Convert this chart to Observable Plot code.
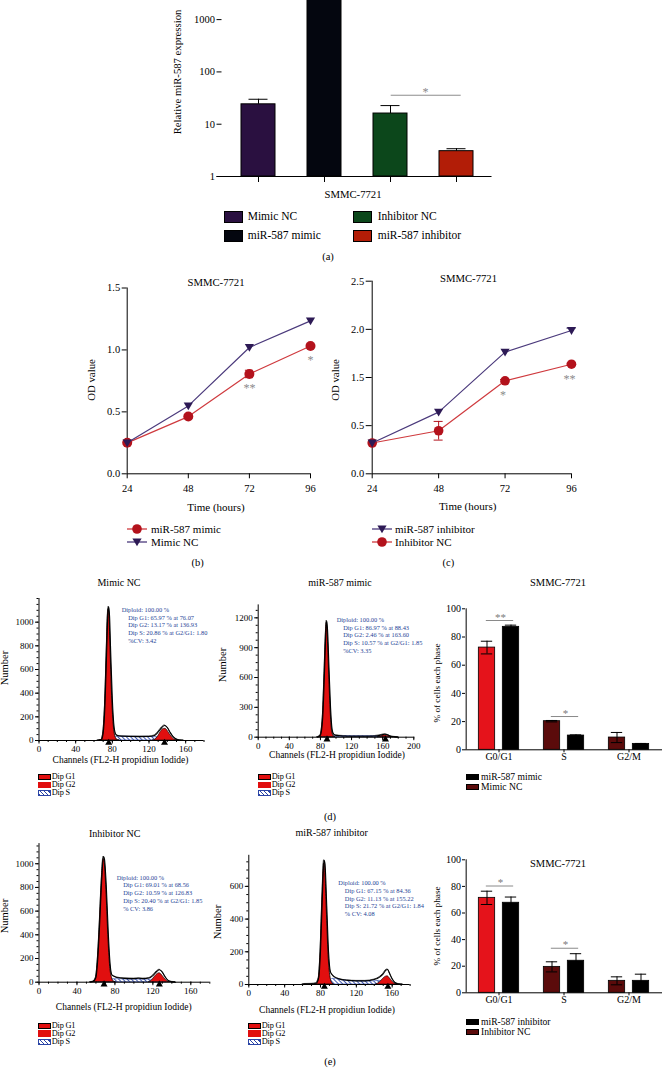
<!DOCTYPE html>
<html><head><meta charset="utf-8">
<script src="https://cdn.jsdelivr.net/npm/d3@7"></script>
<script src="https://cdn.jsdelivr.net/npm/@observablehq/plot@0.6"></script>
<style>
body{margin:0;background:#fff}
#root{position:relative;width:662px;height:1068px;overflow:hidden;font-family:"Liberation Serif","Times New Roman",serif;color:#000;background:#fff}
.t{position:absolute;white-space:nowrap;line-height:1}
</style></head><body><div id="root"></div>
<script>
// ---------------- DATA ----------------
// Panel (a): relative miR-587 expression (log scale)
const aGroups = ["Mimic NC", "miR-587 mimic", "Inhibitor NC", "miR-587 inhibitor"];
const aValues = [24, 5000, 16, 3.05];
const aErrTop = [30, 0, 22.7, 3.4];
const aColors = ["#2a1040", "#04060f", "#0c471b", "#b21d07"];
const aTicks = [1, 10, 100, 1000];
const aSig = [{from: "Inhibitor NC", to: "miR-587 inhibitor", y: 35.8, label: "*"}];

// Panel (b): OD value, mimic
const hours = [24, 48, 72, 96];
const bTicks = [0, 0.5, 1.0, 1.5];
const bMimic = [0.25, 0.462, 0.806, 1.032];
const bMimicErr = [0, 0, 0.03, 0.012];
const bMimicNC = [0.25, 0.548, 1.02, 1.235];
const bStars = [{h: 72, y: 0.806, label: "**"}, {h: 96, y: 1.032, label: "*"}];

// Panel (c): OD value, inhibitor (axis positions with the printed tick labels)
const cTickPos = [0, 0.5, 1, 1.5, 2];
const cTickLabels = ["0.0", "0.5", "1.5", "2.0", "2.5"];
const cInhibitor = [0.32, 0.64, 1.263, 1.488];
const cInhibitorErr = [0, 0, 0, 0.025];
const cInhibitorNC = [0.32, 0.447, 0.966, 1.138];
const cInhibitorNCErr = [0, 0.097, 0.012, 0.01];
const cStars = [{h: 72, y: 0.966, label: "*"}, {h: 96, y: 1.138, label: "**"}];

// Cell-cycle histograms: [channel, count]
const h1Total = [[64,0],[68,5],[70,60],[72,300],[74,800],[75,1050],[76,1130],[77,1050],[78,800],[80,350],[82,110],[84,50],[86,40],[90,36],[100,34],[110,33],[120,34],[126,42],[130,72],[134,110],[137,127],[140,110],[143,70],[146,35],[150,10],[154,2],[158,0]];
const h1G1 = [[66,0],[68,4],[70,55],[72,290],[74,780],[75,1030],[76,1110],[77,1030],[78,780],[80,330],[82,90],[84,20],[86,3],[88,0]];
const h1G2 = [[124,0],[127,8],[130,35],[133,75],[136,98],[138,99],[140,85],[143,50],[146,20],[149,4],[152,0]];
const h1S = [[72,0],[76,12],[80,24],[84,30],[90,31],[100,31],[110,30],[120,30],[128,28],[134,20],[140,8],[144,0]];
const h1Peaks = [76.07, 136.93];
const h1Text = ["Diploid: 100.00 %", "Dip G1: 65.97 % at 76.07", "Dip G2: 13.17 % at 136.93", "Dip S: 20.86 % at G2/G1: 1.80", "%CV: 3.42"];

const h2Total = [[76,0],[80,20],[83,200],[85,600],[87,1050],[88,1170],[89,1100],[91,700],[93,300],[95,80],[97,30],[100,18],[110,12],[120,10],[140,10],[150,12],[156,18],[160,26],[163,30],[166,24],[170,10],[175,3],[180,0]];
const h2G1 = [[78,0],[80,15],[83,190],[85,580],[87,1030],[88,1150],[89,1080],[91,680],[93,280],[95,60],[97,12],[99,0]];
const h2G2 = [[154,0],[158,8],[161,16],[164,18],[167,12],[170,4],[174,0]];
const h2S = [[86,0],[92,8],[100,10],[120,9],[140,9],[155,7],[164,2],[168,0]];
const h2Peaks = [88.43, 163.6];
const h2Text = ["Diploid: 100.00 %", "Dip G1: 86.97 % at 88.43", "Dip G2: 2.46 % at 163.60", "Dip S: 10.57 % at G2/G1: 1.85", "%CV: 3.35"];

const h3Total = [[54,0],[57,5],[60,40],[62,200],[64,500],[66,850],[68,1060],[69,1040],[71,800],[73,420],[75,150],[77,60],[79,50],[82,40],[90,32],[100,30],[105,33],[110,30],[116,35],[120,55],[124,90],[127,105],[130,85],[133,45],[136,15],[140,3],[144,0]];
const h3G1 = [[56,0],[58,8],[60,35],[62,190],[64,480],[66,830],[68,1040],[69,1020],[71,780],[73,400],[75,130],[77,35],[79,5],[81,0]];
const h3G2 = [[116,0],[119,15],[122,45],[125,70],[127,76],[129,65],[132,35],[135,10],[138,0]];
const h3S = [[66,0],[72,15],[78,25],[85,25],[95,22],[105,22],[115,22],[122,18],[128,10],[134,0]];
const h3Peaks = [68.56, 126.83];
const h3Text = ["Diploid: 100.00 %", "Dip G1: 69.01 % at 68.56", "Dip G2: 10.59 % at 126.83", "Dip S: 20.40 % at G2/G1: 1.85", "% CV: 3.86"];

const h4Total = [[60,0],[62,3],[70,4],[75,8],[78,40],[80,200],[82,520],[84,760],[85,740],[87,480],[89,200],[91,80],[93,60],[96,45],[100,35],[110,25],[120,22],[130,22],[140,30],[146,45],[150,65],[153,88],[155,92],[157,70],[160,35],[163,12],[167,3],[172,0]];
const h4G1 = [[76,0],[78,30],[80,190],[82,500],[84,740],[85,720],[87,460],[89,180],[91,50],[93,10],[95,0]];
const h4G2 = [[142,0],[146,12],[150,35],[153,48],[155,50],[157,40],[160,20],[163,5],[166,0]];
const h4S = [[82,0],[88,20],[95,35],[105,25],[115,20],[125,18],[135,18],[145,22],[152,15],[158,0]];
const h4Peaks = [84.36, 155.22];
const h4Text = ["Diploid: 100.00 %", "Dip G1: 67.15 % at 84.36", "Dip G2: 11.13 % at 155.22", "Dip S: 21.72 % at G2/G1: 1.84", "% CV: 4.08"];

// Cell-cycle bar charts (% of cells each phase)
const phases = ["G0/G1", "S", "G2/M"];
const ncColors = ["#e5131b", "#5b0b0b", "#5b0b0b"];
const dMimicNC = [72.5, 20.3, 8.7], dMimicNCErr = [4.5, 0.5, 3.6];
const dMimic = [87.2, 10.1, 4.2], dMimicErr = [1.2, 0.5, 0.3];
const dSig = [{p: "G0/G1", y: 91.7, label: "**"}, {p: "S", y: 23.6, label: "*"}];
const eInhNC = [71.4, 19.5, 9.0], eInhNCErr = [5, 3.8, 3];
const eInh = [67.7, 24.1, 9.0], eInhErr = [4.3, 5.3, 5];
const eSig = [{p: "G0/G1", y: 80.3, label: "*"}, {p: "S", y: 33.5, label: "*"}];

// ---------------- RENDER ----------------
const FONT = '"Liberation Serif","Times New Roman",serif';
const root = document.getElementById("root");
root.insertAdjacentHTML("beforeend", `<svg width="0" height="0" style="position:absolute"><defs><pattern id="hatch" width="3" height="3" patternUnits="userSpaceOnUse" patternTransform="rotate(-45)"><rect width="3" height="3" fill="white"/><line x1="0.5" y1="0" x2="0.5" y2="3" stroke="#2b45a6" stroke-width="0.9"/></pattern></defs></svg>`);

function place(el, left, top) {
  el.style.position = "absolute"; el.style.left = left + "px"; el.style.top = top + "px";
  root.appendChild(el);
}
function txt(s, x, y, o = {}) {
  const d = document.createElement("div");
  d.className = "t"; d.textContent = s;
  d.style.left = x + "px"; d.style.top = y + "px";
  d.style.fontSize = (o.size || 10) + "px";
  if (o.color) d.style.color = o.color;
  if (o.ls) d.style.letterSpacing = o.ls + "px";
  const ax = o.anchor === "start" ? "0" : o.anchor === "end" ? "-100%" : "-50%";
  d.style.transform = `translate(${ax},-50%)` + (o.rotate ? ` rotate(${o.rotate}deg)` : "");
  root.appendChild(d);
}
function sw(x, yc, w, h, style) {
  const d = document.createElement("div");
  d.style.cssText = `position:absolute;left:${x}px;top:${yc - h / 2}px;width:${w}px;height:${h}px;box-sizing:border-box;` + style;
  root.appendChild(d);
}
function lineKey(x1, x2, yc, color, mColor, shape) {
  const w = x2 - x1, m = w / 2;
  const mk = shape === "circle"
    ? `<circle cx="${m}" cy="7" r="4.8" fill="${mColor}"/>`
    : `<path d="M${m - 4.6},3.4 L${m + 4.6},3.4 L${m},11.2 Z" fill="${mColor}"/>`;
  root.insertAdjacentHTML("beforeend", `<svg width="${w}" height="14" style="position:absolute;left:${x1}px;top:${yc - 7}px;overflow:visible"><line x1="0" x2="${w}" y1="7" y2="7" stroke="${color}" stroke-width="1.3"/>${mk}</svg>`);
}
const baseStyle = (fs) => ({fontFamily: FONT, fontSize: fs + "px", background: "none", color: "black", overflow: "visible"});
const plain = d => String(d);

const RED_LINE = "#cf3a3e", RED_DOT = "#b3121c", PURPLE_LINE = "#4b3a7c", PURPLE_DOT = "#2d1a55";
const triDown = {draw(ctx, size) { const r = Math.sqrt(size / Math.PI); ctx.moveTo(-r * 1.15, -r * 0.85); ctx.lineTo(r * 1.15, -r * 0.85); ctx.lineTo(0, r * 1.1); ctx.closePath(); }};

// ---- (a)
{
  const rows = aGroups.map((g, i) => ({g, v: aValues[i], e: aErrTop[i], c: aColors[i]}));
  const withErr = rows.filter(d => d.e > 0);
  const p = Plot.plot({
    width: 662, height: 200, marginLeft: 221.5, marginRight: 170.5, marginTop: 0, marginBottom: 24,
    style: baseStyle(10.5),
    x: {type: "band", domain: aGroups, paddingInner: 0.487, paddingOuter: 0.28},
    y: {type: "log", domain: [1, 2320]},
    color: {type: "identity"},
    marks: [
      Plot.barY(rows, {x: "g", y1: 1, y2: "v", fill: "c", stroke: "black", strokeWidth: 1, clip: true}),
      Plot.ruleX(withErr, {x: "g", y1: "v", y2: "e", stroke: "black", strokeWidth: 1}),
      Plot.tickY(withErr, {x: "g", y: "e", insetLeft: 7.5, insetRight: 7.5, stroke: "black", strokeWidth: 1}),
      Plot.ruleY([1], {stroke: "black", strokeWidth: 1, insetLeft: -5}),
      Plot.axisY({ticks: aTicks, tickFormat: plain, tickSize: 5, tickPadding: 2, label: null}),
      Plot.axisX({tickSize: 6, tickFormat: () => "", label: null}),
      Plot.ruleY(aSig, {x1: "from", x2: "to", y: "y", stroke: "#8c8c8c", strokeWidth: 1, insetLeft: 17.7, insetRight: 12.3}),
      Plot.text(aSig, {x: "to", y: "y", text: "label", dx: -31, dy: -3.3, fill: "#888", fontSize: 12})
    ]
  });
  place(p, 0, 0);
  txt("Relative miR-587 expression", 177, 72, {size: 10.7, rotate: -90});
  txt("SMMC-7721", 353, 194, {size: 10.7});
  const cols = [[224, 247.7], [353.3, 377.7]], rowsY = [217, 236];
  [[0, 0], [1, 0], [0, 1], [1, 1]].forEach(([r, c], k) => {
    sw(cols[c][0], rowsY[r], 19, 12, `background:${aColors[k]};border:1px solid #000`);
    txt(aGroups[k], cols[c][1], rowsY[r], {size: 11.5, anchor: "start"});
  });
  txt("(a)", 328, 257, {size: 10.5});
}

// ---- (b)
{
  const data = hours.map((h, i) => ({h, m: bMimic[i], me: bMimicErr[i], nc: bMimicNC[i]}));
  const err = data.filter(d => d.me > 0);
  const p = Plot.plot({
    width: 340, height: 230, marginLeft: 126.7, marginRight: 30, marginTop: 17.5, marginBottom: 26.7,
    style: baseStyle(10.5),
    x: {domain: [24, 96]}, y: {domain: [0, 1.5]},
    marks: [
      Plot.ruleX([24], {stroke: "black"}), Plot.ruleY([0], {stroke: "black"}),
      Plot.axisX({ticks: hours, tickFormat: plain, tickSize: 5, tickPadding: 6, label: null}),
      Plot.axisY({ticks: bTicks, tickFormat: d3.format(".1f"), tickSize: 5, tickPadding: 2, label: null}),
      Plot.line(data, {x: "h", y: "m", stroke: RED_LINE, strokeWidth: 1.2}),
      Plot.ruleX(err, {x: "h", y1: d => d.m - d.me, y2: d => d.m + d.me, stroke: RED_DOT}),
      Plot.ruleY(err, {x1: "h", x2: "h", y: d => d.m + d.me, insetLeft: -4, insetRight: -4, stroke: RED_DOT}),
      Plot.ruleY(err, {x1: "h", x2: "h", y: d => d.m - d.me, insetLeft: -4, insetRight: -4, stroke: RED_DOT}),
      Plot.dot(data, {x: "h", y: "m", r: 5, fill: RED_DOT}),
      Plot.line(data, {x: "h", y: "nc", stroke: PURPLE_LINE, strokeWidth: 1.2}),
      Plot.dot(data, {x: "h", y: "nc", r: 4, symbol: triDown, fill: PURPLE_DOT, stroke: "none"}),
      Plot.text(bStars, {x: "h", y: "y", text: "label", dy: 14.4, fill: "#8a8a8a", fontSize: 12})
    ]
  });
  place(p, 0, 270);
  txt("SMMC-7721", 216, 281.7, {size: 10.7});
  txt("OD value", 91, 380, {size: 10.8, rotate: -90});
  txt("Time (hours)", 216, 506.7, {size: 11});
  lineKey(127, 147, 529, RED_LINE, RED_DOT, "circle");
  txt("miR-587 mimic", 151, 529, {size: 11, anchor: "start"});
  lineKey(127, 147, 542.3, PURPLE_LINE, PURPLE_DOT, "tri");
  txt("Mimic NC", 151, 542.3, {size: 11, anchor: "start"});
  txt("(b)", 197.7, 563, {size: 10.5});
}

// ---- (c)
{
  const data = hours.map((h, i) => ({h, inh: cInhibitor[i], ie: cInhibitorErr[i], nc: cInhibitorNC[i], ne: cInhibitorNCErr[i]}));
  const ncErr = data.filter(d => d.ne > 0), inErr = data.filter(d => d.ie > 0);
  const p = Plot.plot({
    width: 262, height: 230, marginLeft: 41.7, marginRight: 21, marginTop: 10.7, marginBottom: 26.7,
    style: baseStyle(10.5),
    x: {domain: [24, 96]}, y: {domain: [0, 2]},
    marks: [
      Plot.ruleX([24], {stroke: "black"}), Plot.ruleY([0], {stroke: "black"}),
      Plot.axisX({ticks: hours, tickFormat: plain, tickSize: 5, tickPadding: 6, label: null}),
      Plot.axisY({ticks: cTickPos, tickFormat: d => cTickLabels[cTickPos.indexOf(d)], tickSize: 6, tickPadding: 2, label: null}),
      Plot.line(data, {x: "h", y: "nc", stroke: RED_LINE, strokeWidth: 1.2}),
      Plot.ruleX(ncErr, {x: "h", y1: d => d.nc - d.ne, y2: d => d.nc + d.ne, stroke: RED_DOT}),
      Plot.ruleY(ncErr, {x1: "h", x2: "h", y: d => d.nc + d.ne, insetLeft: -4.5, insetRight: -4.5, stroke: RED_DOT}),
      Plot.ruleY(ncErr, {x1: "h", x2: "h", y: d => d.nc - d.ne, insetLeft: -4.5, insetRight: -4.5, stroke: RED_DOT}),
      Plot.dot(data, {x: "h", y: "nc", r: 4.8, fill: RED_DOT}),
      Plot.line(data, {x: "h", y: "inh", stroke: PURPLE_LINE, strokeWidth: 1.2}),
      Plot.ruleX(inErr, {x: "h", y1: d => d.inh - d.ie, y2: d => d.inh + d.ie, stroke: PURPLE_DOT}),
      Plot.ruleY(inErr, {x1: "h", x2: "h", y: d => d.inh + d.ie, insetLeft: -4.5, insetRight: -4.5, stroke: PURPLE_DOT}),
      Plot.dot(data, {x: "h", y: "inh", r: 4, symbol: triDown, fill: PURPLE_DOT, stroke: "none"}),
      Plot.text(cStars, {x: "h", y: "y", text: "label", dy: 14.5, dx: -2, fill: "#8a8a8a", fontSize: 12})
    ]
  });
  place(p, 330, 270);
  txt("SMMC-7721", 468.5, 277.7, {size: 10.7});
  txt("OD value", 335, 380, {size: 10.8, rotate: -90});
  txt("Time (hours)", 467.7, 506, {size: 11});
  lineKey(371.7, 391.7, 529, PURPLE_LINE, PURPLE_DOT, "tri");
  txt("miR-587 inhibitor", 395, 529, {size: 11, anchor: "start"});
  lineKey(371.7, 391.7, 542.3, RED_LINE, RED_DOT, "circle");
  txt("Inhibitor NC", 395, 542.3, {size: 11, anchor: "start"});
  txt("(c)", 448.3, 563, {size: 10.5});
}

// ---- histograms
const RED_H = "#e10f0f";
function histogram(o) {
  const x = d => d[0], y = d => d[1], curve = "monotone-x";
  const p = Plot.plot({
    width: o.w, height: o.h, marginLeft: o.mL, marginRight: o.mR, marginTop: o.mT, marginBottom: o.mB,
    style: baseStyle(9),
    x: {domain: [0, o.xMax]}, y: {domain: [0, o.yMax]},
    marks: [
      Plot.areaY(o.total, {x, y, fill: "white", stroke: "black", strokeWidth: 0.7, curve}),
      Plot.areaY(o.s, {x, y, fill: "url(#hatch)", stroke: "#2b45a6", strokeWidth: 0.6, curve}),
      Plot.areaY(o.g1, {x, y, fill: RED_H, stroke: "black", strokeWidth: 0.8, curve}),
      Plot.areaY(o.g2, {x, y, fill: RED_H, stroke: "black", strokeWidth: 0.6, curve}),
      Plot.lineY(o.total, {x, y, stroke: "black", strokeWidth: 1.1, curve}),
      Plot.ruleX([0], {stroke: "black"}), Plot.ruleY([0], {stroke: "black"}),
      Plot.axisY({ticks: o.yMinor, tickSize: 2, tickFormat: () => "", label: null}),
      Plot.axisY({ticks: o.yTicks, tickFormat: plain, tickSize: 3.5, tickPadding: 2, label: null}),
      Plot.axisX({ticks: o.xMinor, tickSize: 2, tickFormat: () => "", label: null}),
      Plot.axisX({ticks: o.xTicks, tickFormat: plain, tickSize: 3.5, tickPadding: 1.5, label: null}),
      Plot.dot(o.peaks, {x: d => d, y: 0, symbol: "triangle", r: 2.6, fill: "black", dy: 2.2})
    ]
  });
  place(p, o.left, o.top);
  o.text.forEach((s, i) => txt(s, i === 0 ? o.tx : o.tx + 6.5, o.ty + i * 7.7, {size: 6.4, color: "#263f96", anchor: "start"}));
  const [lx, ly] = o.leg;
  sw(lx, ly, 12.3, 6.5, `background:${RED_H};border:1.6px solid #000`);
  sw(lx, ly + 7.8, 12.3, 6.5, `background:${RED_H};border:1px solid ${RED_H}`);
  sw(lx, ly + 16.2, 12.3, 6.5, `background:repeating-linear-gradient(45deg,#2b45a6 0 1px,#fff 1px 3px);border:1px solid #2b45a6`);
  ["Dip G1", "Dip G2", "Dip S"].forEach((s, i) => txt(s, lx + 13.5, ly + [0, 7.8, 16.2][i], {size: 8.3, anchor: "start", ls: -0.2}));
}
const range10 = (a, b, s) => d3.range(a, b + 0.001, s);
histogram({left: 0, top: 590, w: 215, h: 165, mL: 38.5, mR: 11.5, mT: 8, mB: 15, xMax: 180, yMax: 1200,
  xTicks: [0, 40, 80, 120, 160], xMinor: range10(0, 180, 10), yTicks: [0, 200, 400, 600, 800, 1000], yMinor: range10(0, 1200, 50),
  total: h1Total, g1: h1G1, g2: h1G2, s: h1S, peaks: h1Peaks, text: h1Text, tx: 121.7, ty: 610, leg: [38.3, 777]});
histogram({left: 222, top: 600, w: 200, h: 155, mL: 35.7, mR: 8.7, mT: 4.4, mB: 18.3, xMax: 200, yMax: 1330,
  xTicks: [0, 40, 80, 120, 160, 200], xMinor: range10(0, 200, 10), yTicks: [0, 300, 600, 900, 1200], yMinor: range10(0, 1320, 75),
  total: h2Total, g1: h2G1, g2: h2G2, s: h2S, peaks: h2Peaks, text: h2Text, tx: 336.7, ty: 620, leg: [258.3, 777]});
histogram({left: 0, top: 840, w: 215, h: 160, mL: 38.5, mR: 5.7, mT: 3.1, mB: 18.3, xMax: 180, yMax: 1170,
  xTicks: [0, 40, 80, 120, 160], xMinor: range10(0, 180, 10), yTicks: [0, 200, 400, 600, 800, 1000], yMinor: range10(0, 1150, 50),
  total: h3Total, g1: h3G1, g2: h3G2, s: h3S, peaks: h3Peaks, text: h3Text, tx: 116.7, ty: 877.7, leg: [38.3, 1025.8]});
histogram({left: 215, top: 840, w: 200, h: 160, mL: 33.3, mR: 5.4, mT: 14.8, mB: 16, xMax: 180, yMax: 790,
  xTicks: [0, 40, 80, 120, 160], xMinor: range10(0, 180, 10), yTicks: [0, 200, 400, 600], yMinor: range10(0, 750, 50),
  total: h4Total, g1: h4G1, g2: h4G2, s: h4S, peaks: h4Peaks, text: h4Text, tx: 338.3, ty: 883.3, leg: [248.3, 1025.8]});

txt("Mimic NC", 119, 583.3, {size: 10});
txt("miR-587 mimic", 340, 583.3, {size: 10});
txt("Inhibitor NC", 114.7, 834, {size: 10});
txt("miR-587 inhibitor", 331.7, 833.3, {size: 10});
txt("Number", 5.3, 668, {size: 10.5, rotate: -90});
txt("Number", 223, 665, {size: 10.5, rotate: -90});
txt("Number", 5.3, 916, {size: 10.5, rotate: -90});
txt("Number", 217.5, 922, {size: 10.5, rotate: -90});
txt("Channels (FL2-H propidiun Iodide)", 120.5, 760.7, {size: 9.5});
txt("Channels (FL2-H propidiun Iodide)", 337, 755.7, {size: 9.5});
txt("Channels (FL2-H propidiun Iodide)", 123.8, 1008.3, {size: 9.5});
txt("Channels (FL2-H propidiun Iodide)", 327, 1010.7, {size: 9.5});

// ---- cell-cycle bar charts
function cycleBars(o) {
  const step = (o.w - o.mL - o.mR) / phases.length;
  const half = step / 2, off = 12, bw = 17, cap = 12;
  const rows = phases.map((p, i) => ({p, nc: o.nc[i], ncE: o.ncE[i], tr: o.tr[i], trE: o.trE[i], col: ncColors[i]}));
  const err = (k, e, dx) => [
    Plot.ruleX(rows, {x: "p", y1: d => d[k] - d[e], y2: d => d[k] + d[e], dx, stroke: "black", strokeWidth: 1}),
    Plot.tickY(rows, {x: "p", y: d => d[k] + d[e], dx, insetLeft: half - cap / 2, insetRight: half - cap / 2, stroke: "black", strokeWidth: 1}),
    Plot.tickY(rows, {x: "p", y: d => d[k] - d[e], dx, insetLeft: half - cap / 2, insetRight: half - cap / 2, stroke: "black", strokeWidth: 1})
  ];
  const p = Plot.plot({
    width: o.w, height: o.h, marginLeft: o.mL, marginRight: o.mR, marginTop: o.mT, marginBottom: o.mB,
    style: baseStyle(10),
    x: {type: "band", domain: phases, padding: 0},
    y: {domain: [0, 100]},
    color: {type: "identity"},
    marks: [
      Plot.barY(rows, {x: "p", y: "nc", fill: "col", stroke: "black", strokeWidth: 0.8, insetLeft: half - off - bw / 2, insetRight: half + off - bw / 2}),
      Plot.barY(rows, {x: "p", y: "tr", fill: "black", stroke: "black", strokeWidth: 0.8, insetLeft: half + off - bw / 2, insetRight: half - off - bw / 2}),
      ...err("nc", "ncE", -off), ...err("tr", "trE", off),
      Plot.ruleY([0], {stroke: "black"}),
      Plot.ruleX([phases[0]], {x: d => d, dx: -half, stroke: "black"}),
      Plot.axisY({ticks: [0, 20, 40, 60, 80, 100], tickFormat: plain, tickSize: 3, tickPadding: 1.5, label: null}),
      Plot.axisX({tickSize: 3, tickPadding: 0, label: null}),
      Plot.ruleY(o.sig, {x1: "p", x2: "p", y: "y", dx: 1, insetLeft: half - 14, insetRight: half - 14, stroke: "#8a8a8a", strokeWidth: 1}),
      Plot.text(o.sig, {x: "p", y: "y", text: "label", dx: 1.5, dy: -3.4, fill: "#7a7a7a", fontSize: 11})
    ]
  });
  place(p, o.left, o.top);
}
cycleBars({left: 430, top: 600, w: 232, h: 170, mL: 35, mR: 0, mT: 8.3, mB: 20.7, nc: dMimicNC, ncE: dMimicNCErr, tr: dMimic, trE: dMimicErr, sig: dSig});
cycleBars({left: 430, top: 850, w: 232, h: 160, mL: 35, mR: 0, mT: 9.3, mB: 17.7, nc: eInhNC, ncE: eInhNCErr, tr: eInh, trE: eInhErr, sig: eSig});

txt("SMMC-7721", 558, 583.3, {size: 10.5});
txt("% of cells each phase", 438.3, 683, {size: 9.2, rotate: -90});
sw(466, 777, 13.3, 6.2, "background:#000");
txt("miR-587 mimic", 481, 777, {size: 9.6, anchor: "start"});
sw(466, 787.3, 13.3, 6.2, "background:#5b0b0b;border:0.8px solid #000");
txt("Mimic NC", 481, 787.3, {size: 9.6, anchor: "start"});

txt("SMMC-7721", 558, 864, {size: 10.5});
txt("% of cells each phase", 438.3, 926, {size: 9.2, rotate: -90});
sw(466, 1022.3, 13.3, 6.2, "background:#000");
txt("miR-587 inhibitor", 481, 1022.3, {size: 9.6, anchor: "start"});
sw(466, 1032, 13.3, 6.2, "background:#5b0b0b;border:0.8px solid #000");
txt("Inhibitor NC", 481, 1032, {size: 9.6, anchor: "start"});

txt("(d)", 330, 816.7, {size: 10.5});
txt("(e)", 330, 1061.7, {size: 10.5});
</script></body></html>
